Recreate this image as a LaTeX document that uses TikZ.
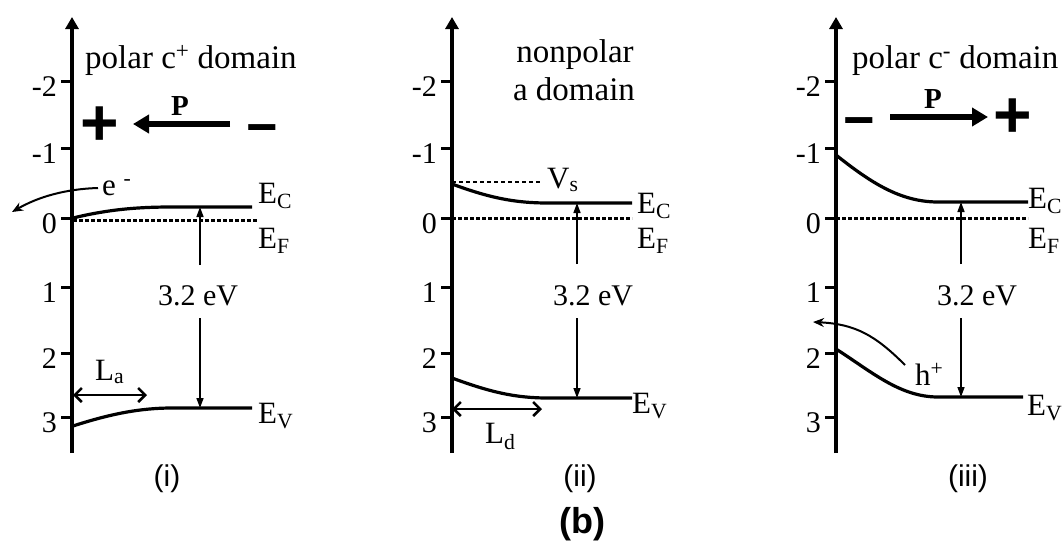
\documentclass[tikz,border=0pt]{standalone}
\usepackage{fontspec}
\setmainfont{Liberation Serif}
\setsansfont{Liberation Sans}
\usetikzlibrary{arrows.meta}

\begin{document}
\begin{tikzpicture}[
    x=1pt, y=-1pt,
    axis/.style={
        line width=4pt,
        -{Triangle[length=12pt,width=13pt]}
    },
    tick/.style={line width=3pt},
    ticklabel/.style={
        anchor=east,
        inner sep=0pt,
        font=\fontsize{30}{30}\selectfont
    },
    band/.style={line width=3.2pt},
    fermi/.style={line width=3pt, dash pattern=on 3.5pt off 2.5pt},
    vsline/.style={line width=1.2pt, dash pattern=on 4pt off 3pt},
    level/.style={
        anchor=base west,
        inner sep=0pt,
        font=\fontsize{31}{31}\selectfont
    },
    gaparrow/.style={
        line width=1.5pt,
        -{Triangle[length=10pt,width=7pt]}
    },
    gaplabel/.style={
        anchor=base,
        inner sep=0pt,
        font=\fontsize{30}{30}\selectfont
    },
    title/.style={
        anchor=base,
        inner sep=0pt,
        font=\fontsize{33}{33}\selectfont
    },
    carrier/.style={
        line width=2pt,
        -{Stealth[length=11pt,width=9pt]}
    },
    span/.style={
        line width=2.5pt,
        {Straight Barb[length=7pt,width=14pt]}-{Straight Barb[length=7pt,width=14pt]}
    },
    polar/.style={
        line width=5.5pt,
        -{Triangle[length=16pt,width=18pt]}
    },
    plussign/.style={inner sep=0pt, font=\sffamily\bfseries\fontsize{66}{66}\selectfont},
    minussign/.style={inner sep=0pt, font=\sffamily\bfseries\fontsize{54}{54}\selectfont},
    plabel/.style={inner sep=0pt, font=\bfseries\fontsize{29}{29}\selectfont},
    panel/.style={inner sep=0pt, font=\sffamily\fontsize{30}{30}\selectfont}
]
\useasboundingbox (0,0) rectangle (1063,544);

% ---------------- AXES ----------------

\foreach \ax/\p in {72/i,452/ii,836/iii} {
    \coordinate (ax-\p) at (\ax,453);
    \draw[axis] (ax-\p) -- (\ax,17);
    \foreach \v/\y in {-2/81,-1/148,0/218,1/287,2/353,3/417} {
        \draw[tick] (\ax-11,\y) -- (\ax,\y);
        \node[ticklabel] (tk-\p-\y) at (\ax-15,\y+6) {\v};
    }
}

% ---------------- PANEL (i) ----------------

\node[title, anchor=base west] (title1) at (85,68) {polar c\textsuperscript{+} domain};

\node[plussign] (plus1) at (100,126) {+};
\node[minussign] (minus1) at (262,135) {−};
\coordinate (ptail1) at (230,124);
\coordinate (phead1) at (133,124);
\draw[polar] (ptail1) -- (phead1);
\node[plabel] (p1) at (180,106) {P};

\node[level] (elec) at (102,195) {e \textsuperscript{-}};
\coordinate (eout) at (12,212);
\draw[carrier] (98,188) .. controls (65,189) and (38,197) .. (eout);

\draw[band] (73,218) .. controls (110,209) and (140,207) .. (172,207) -- (252,207);
\draw[fermi] (73,220) -- (257,220);
\draw[band] (73,426) .. controls (110,414) and (140,408) .. (172,408) -- (252,408);

\node[level] (ec1l) at (258,203) {E\textsubscript{C}};
\node[level] (ef1l) at (258,248) {E\textsubscript{F}};
\node[level] (ev1l) at (258,423) {E\textsubscript{V}};

\coordinate (ec1) at (200,207);
\coordinate (ev1) at (200,408);
\coordinate (gt1) at (200,265);
\coordinate (gb1) at (200,318);
\node[gaplabel] (gap1) at (198,305) {3.2 eV};
\draw[gaparrow] (gt1) -- (ec1);
\draw[gaparrow] (gb1) -- (ev1);

\coordinate (la0) at (73,395);
\coordinate (la1) at (147,395);
\draw[span] (la0) -- (la1);
\node[level] (lalbl) at (95,380) {L\textsubscript{a}};

\node[panel] (cap1) at (167,479) {(i)};

% ---------------- PANEL (ii) ----------------

\node[title] (title2a) at (575,62) {nonpolar};
\node[title] (title2b) at (574,100) {a domain};

\coordinate (vs0) at (452,182);
\coordinate (vs1) at (540,182);
\draw[vsline] (vs0) -- (vs1);
\node[level] (vslbl) at (547,188) {V\textsubscript{s}};

\draw[band] (452,184) .. controls (490,198) and (515,203) .. (548,203) -- (632,203);
\draw[fermi] (452,218) -- (632,218);
\draw[band] (452,378) .. controls (490,392) and (515,398) .. (548,398) -- (632,398);

\node[level] (ec2l) at (637,213) {E\textsubscript{C}};
\node[level] (ef2l) at (637,248) {E\textsubscript{F}};
\node[level] (ev2l) at (632,413) {E\textsubscript{V}};

\coordinate (ec2) at (577,203);
\coordinate (ev2) at (577,398);
\coordinate (gt2) at (577,264);
\coordinate (gb2) at (577,318);
\node[gaplabel] (gap2) at (593,305) {3.2 eV};
\draw[gaparrow] (gt2) -- (ec2);
\draw[gaparrow] (gb2) -- (ev2);

\coordinate (ld0) at (452,409);
\coordinate (ld1) at (542,409);
\draw[span] (ld0) -- (ld1);
\node[level] (ldlbl) at (485,443) {L\textsubscript{d}};

\node[panel] (cap2) at (580,479) {(ii)};
\node[panel, font=\sffamily\bfseries\fontsize{36}{36}\selectfont] (capb) at (582,524) {(b)};

% ---------------- PANEL (iii) ----------------

\node[title, anchor=base west] (title3) at (852,68) {polar c\textsuperscript{-} domain};

\node[minussign] (minus3) at (859,128) {−};
\node[plussign] (plus3) at (1013,118) {+};
\coordinate (ptail3) at (890,117);
\coordinate (phead3) at (988,117);
\draw[polar] (ptail3) -- (phead3);
\node[plabel] (p3) at (933,99) {P};

\draw[band] (836,155) .. controls (870,182) and (900,202) .. (938,202) -- (1028,202);
\draw[fermi] (836,218) -- (1028,218);
\draw[band] (836,349) .. controls (872,372) and (900,397) .. (938,397) -- (1023,397);

\node[level] (ec3l) at (1028,208) {E\textsubscript{C}};
\node[level] (ef3l) at (1028,248) {E\textsubscript{F}};
\node[level] (ev3l) at (1027,415) {E\textsubscript{V}};

\coordinate (ec3) at (961,202);
\coordinate (ev3) at (961,397);
\coordinate (gt3) at (961,264);
\coordinate (gb3) at (961,318);
\node[gaplabel] (gap3) at (977,305) {3.2 eV};
\draw[gaparrow] (gt3) -- (ec3);
\draw[gaparrow] (gb3) -- (ev3);

\node[level] (hole) at (915,385) {h\textsuperscript{+}};
\coordinate (hout) at (813,322);
\draw[carrier] (905,365) .. controls (875,335) and (855,324) .. (hout);

\node[panel] (cap3) at (968,479) {(iii)};

\end{tikzpicture}
\end{document}
